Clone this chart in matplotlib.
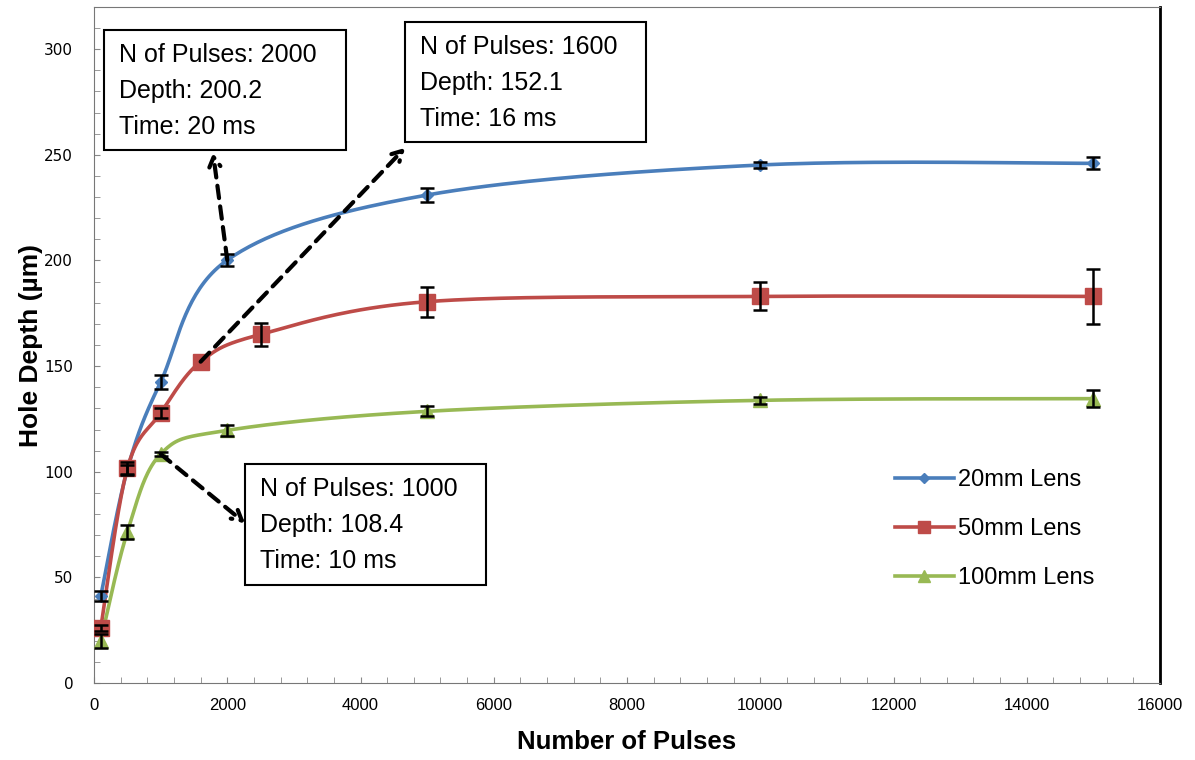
import numpy as np
import matplotlib.pyplot as plt
from matplotlib.patches import Rectangle
from matplotlib.ticker import MultipleLocator

# data
pulses_20 = [100, 500, 1000, 2000, 5000, 10000, 15000]
depth_20 = [41, 101, 142.5, 200.2, 231, 245.2, 246]
err_20 = [2.4, 2.0, 3.3, 3.0, 3.2, 1.6, 2.8]

pulses_50 = [100, 500, 1000, 1600, 2500, 5000, 10000, 15000]
depth_50 = [26, 101.6, 127.8, 152.1, 165, 180.5, 183, 183]
err_50 = [1.3, 3.1, 2.3, 0, 5.3, 7.1, 6.6, 13]

pulses_100 = [100, 500, 1000, 2000, 5000, 10000, 15000]
depth_100 = [20, 71.5, 108.4, 119.6, 128.6, 133.8, 134.6]
err_100 = [3.3, 3.3, 1.0, 2.6, 2.4, 1.7, 4.1]

labels = ['20mm Lens', '50mm Lens', '100mm Lens']
colors = ['#4A7EBB', '#BE4B48', '#98B954']
markers = ['D', 's', '^']
marker_sizes = [6, 11, 10]

# callout text, point it refers to, arrow tip, box (x0, x1, y0, y1)
notes = [
    ('N of Pulses: 2000\nDepth: 200.2\nTime: 20 ms', (2000, 200.2), (1786, 250.9), (150, 3782, 252.3, 309.1)),
    ('N of Pulses: 1600\nDepth: 152.1\nTime: 16 ms', (1600, 152.1), (4668, 253.3), (4668, 8285, 256.1, 312.9)),
    ('N of Pulses: 1000\nDepth: 108.4\nTime: 10 ms', (1000, 108.4), (2266, 75.7), (2266, 5884, 46.4, 103.7)),
]


def excel_smooth(x, y, n=40):
    # bezier smoothing like excel's "smoothed line"
    p = np.column_stack([x, y]).astype(float)
    pts = []
    for i in range(len(p) - 1):
        p0 = p[i - 1] if i > 0 else p[i]
        p3 = p[i + 2] if i + 2 < len(p) else p[i + 1]
        c1 = p[i] + (p[i + 1] - p0) / 6
        c2 = p[i + 1] - (p3 - p[i]) / 6
        t = np.linspace(0, 1, n)[:, None]
        seg = ((1 - t) ** 3) * p[i] + 3 * ((1 - t) ** 2) * t * c1 + 3 * (1 - t) * t ** 2 * c2 + t ** 3 * p[i + 1]
        pts.append(seg)
    pts = np.vstack(pts)
    return pts[:, 0], pts[:, 1]


fig = plt.figure(figsize=(11.95, 7.6), dpi=100)
ax = fig.add_axes([0.0787, 0.1013, 0.8920, 0.8895])

series = [(pulses_20, depth_20, err_20), (pulses_50, depth_50, err_50), (pulses_100, depth_100, err_100)]
for (x, y, e), lab, c, m, ms in zip(series, labels, colors, markers, marker_sizes):
    sx, sy = excel_smooth(x, y)
    ax.plot(sx, sy, color=c, lw=2.6, zorder=2)
    ax.plot(x, y, ls='none', marker=m, ms=ms, color=c, zorder=3)
    ax.plot([], [], color=c, lw=2.6, marker=m, ms=ms * 0.85, label=lab)

for x, y, e in series:
    x = np.array(x)
    y = np.array(y)
    e = np.array(e)
    keep = e > 0
    ax.errorbar(x[keep], y[keep], yerr=e[keep], fmt='none', ecolor='black', elinewidth=1.8,
                capsize=5, capthick=1.8, zorder=4)

for text, tail, head, (x0, x1, y0, y1) in notes:
    ax.annotate('', xy=head, xytext=tail,
                arrowprops=dict(arrowstyle='->,head_length=0.7,head_width=0.4', color='black', lw=3,
                                linestyle=(0, (3, 2)), shrinkA=0, shrinkB=0), zorder=7)
    ax.add_patch(Rectangle((x0, y0), x1 - x0, y1 - y0, fc='white', ec='black', lw=1.5, zorder=6))
    ax.text(x0 + 225, y1 - 6, text, fontsize=18, family='Liberation Sans', va='top', ha='left',
            linespacing=1.65, zorder=6)

ax.set_xlim(0, 16000)
ax.set_ylim(0, 320)
ax.xaxis.set_major_locator(MultipleLocator(2000))
ax.xaxis.set_minor_locator(MultipleLocator(400))
ax.yaxis.set_minor_locator(MultipleLocator(10))
ax.set_yticks(np.arange(0, 301, 50))
ax.tick_params(which='both', direction='in', length=4, color='#888888')
ax.tick_params(axis='x', labelsize=12, pad=11)
ax.tick_params(axis='y', labelsize=11, pad=15)
for lbl in ax.get_xticklabels():
    lbl.set_family('Liberation Sans')
for sp in ax.spines.values():
    sp.set_color('#777777')
ax.spines['right'].set_color('black')
ax.spines['right'].set_linewidth(2)

ax.set_xlabel('Number of Pulses', fontsize=18.5, fontweight='bold', family='Liberation Sans', labelpad=12)
ax.set_ylabel('Hole Depth (µm)', fontsize=19, fontweight='bold', family='Liberation Sans', labelpad=1)

ax.legend(loc='center left', bbox_to_anchor=(0.751, 0.2275), frameon=False,
          handlelength=2.5, labelspacing=1.15, handletextpad=0.2, borderpad=0, borderaxespad=0,
          prop={'family': 'Liberation Sans', 'size': 17})

fig.savefig('out.png', dpi=100)
